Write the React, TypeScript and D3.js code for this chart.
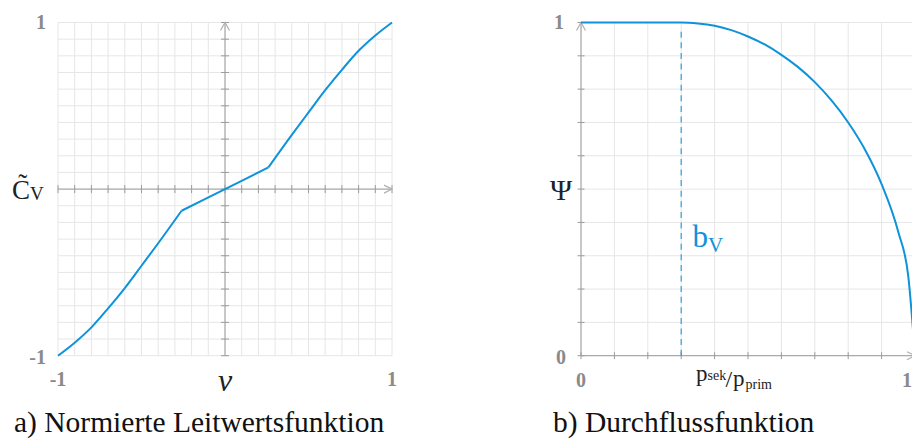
import React from "react";
import * as d3 from "d3";

// a) normalized conductance function, three pieces (kinks at +-0.26)
const outerNegX = [-1, -0.9, -0.8, -0.7, -0.6, -0.5, -0.4, -0.26];
const outerNegY = [-1, -0.922, -0.83, -0.716, -0.594, -0.46, -0.325, -0.13];
const coreX = [-0.26, 0, 0.26];
const coreY = [-0.13, 0, 0.13];
const outerPosX = [0.26, 0.4, 0.5, 0.6, 0.7, 0.8, 0.9, 1];
const outerPosY = [0.13, 0.325, 0.46, 0.594, 0.716, 0.83, 0.922, 1];

// b) flow function
const flowX = [0, 0.3, 0.35, 0.4, 0.45, 0.5, 0.55, 0.6, 0.65, 0.7, 0.75, 0.8, 0.85, 0.9, 0.95, 0.98, 1];
const flowY = [1, 1, 0.997, 0.99, 0.977, 0.958, 0.934, 0.903, 0.866, 0.821, 0.766, 0.7, 0.619, 0.515, 0.371, 0.237, 0];
const bV = 0.3;

const leftTickLabels = ["-1", "1"];
const rightTickLabels = ["0", "1"];

const BLUE = "#0e93da";
const GRID = "#e6e6e6";
const AXIS = "#9c9c9c";
const NUM = "#8a8a8a";
const FONT = '"Liberation Serif", "DejaVu Serif", serif';

const xL = d3.scaleLinear().domain([-1, 1]).range([58, 392]);
const yL = d3.scaleLinear().domain([-1, 1]).range([355.7, 22.5]);
const xR = d3.scaleLinear().domain([0, 1]).range([581, 915]);
const yR = d3.scaleLinear().domain([0, 1]).range([355.7, 22.5]);

function zip(xs: number[], ys: number[]): [number, number][] {
  return xs.map((x, i) => [x, ys[i]]);
}

function Chevron({ x, y, dir }: { x: number; y: number; dir: "up" | "right" }) {
  const d =
    dir === "up"
      ? `M${x - 4.5},${y + 8} L${x},${y} L${x + 4.5},${y + 8}`
      : `M${x - 8},${y - 4} L${x},${y} L${x - 8},${y + 4}`;
  return <path d={d} fill="none" stroke="#b0b0b0" strokeWidth={1.2} />;
}

function Num({ x, y, anchor, children }: { x: number; y: number; anchor: string; children: React.ReactNode }) {
  return (
    <text x={x} y={y} textAnchor={anchor} fontSize={20} fontWeight="bold" fill={NUM}>
      {children}
    </text>
  );
}

export default function App() {
  const lineL = d3
    .line<[number, number]>()
    .x((d) => xL(d[0]))
    .y((d) => yL(d[1]))
    .curve(d3.curveMonotoneX);
  const lineR = d3
    .line<[number, number]>()
    .x((d) => xR(d[0]))
    .y((d) => yR(d[1]))
    .curve(d3.curveMonotoneX);

  const gridL = d3.range(-10, 11).map((i) => i / 10);
  const gridR = d3.range(0, 11).map((i) => i / 10);

  return (
    <svg
      width={912}
      height={438}
      style={{ position: "absolute", left: 0, top: 0, background: "#fff", fontFamily: FONT }}
    >
      {/* ---------- left chart ---------- */}
      <g>
        {gridL.map((v) => (
          <line key={"gx" + v} x1={xL(v)} x2={xL(v)} y1={yL(-1)} y2={yL(1)} stroke={GRID} />
        ))}
        {gridL.map((v) => (
          <line key={"gy" + v} x1={xL(-1)} x2={xL(1)} y1={yL(v)} y2={yL(v)} stroke={GRID} />
        ))}
        <line x1={xL(-1)} x2={xL(1)} y1={yL(0)} y2={yL(0)} stroke={AXIS} />
        <line x1={xL(0)} x2={xL(0)} y1={yL(-1)} y2={yL(1)} stroke={AXIS} />
        {gridL.map((v) => (
          <line key={"tx" + v} x1={xL(v)} x2={xL(v)} y1={yL(0) - 4} y2={yL(0) + 4} stroke={AXIS} />
        ))}
        {gridL.map((v) => (
          <line key={"ty" + v} x1={xL(0) - 4} x2={xL(0) + 4} y1={yL(v)} y2={yL(v)} stroke={AXIS} />
        ))}
        <Chevron x={xL(0)} y={yL(1)} dir="up" />
        <Chevron x={xL(1)} y={yL(0)} dir="right" />

        {[zip(outerNegX, outerNegY), zip(coreX, coreY), zip(outerPosX, outerPosY)].map((seg, i) => (
          <path key={i} d={lineL(seg) || ""} fill="none" stroke={BLUE} strokeWidth={2} strokeLinejoin="round" />
        ))}

        <Num x={46} y={29} anchor="end">1</Num>
        <Num x={46} y={364} anchor="end">-1</Num>
        <Num x={xL(-1)} y={386} anchor="middle">{leftTickLabels[0]}</Num>
        <Num x={xL(1)} y={386} anchor="middle">{leftTickLabels[1]}</Num>
        <text x={xL(0)} y={391} textAnchor="middle" fontSize={32} fontStyle="italic" fill="#222">ν</text>
        <text x={12} y={198.5} fontSize={27} fill="#222">
          C̃
          <tspan fontSize={19} dy={1.5}>V</tspan>
        </text>
        <text x={14} y={432} fontSize={29.5} fill="#111">a) Normierte Leitwertsfunktion</text>
      </g>

      {/* ---------- right chart ---------- */}
      <g>
        {gridR.map((v) => (
          <line key={"gx" + v} x1={xR(v)} x2={xR(v)} y1={yR(0)} y2={yR(1)} stroke={GRID} />
        ))}
        {gridR.map((v) => (
          <line key={"gy" + v} x1={xR(0)} x2={xR(1)} y1={yR(v)} y2={yR(v)} stroke={GRID} />
        ))}
        <line x1={xR(0)} x2={xR(1)} y1={yR(0)} y2={yR(0)} stroke={AXIS} />
        <line x1={xR(0)} x2={xR(0)} y1={yR(0)} y2={yR(1)} stroke={AXIS} />
        {gridR.map((v) => (
          <line key={"tx" + v} x1={xR(v)} x2={xR(v)} y1={yR(0) - 3.5} y2={yR(0) + 3.5} stroke={AXIS} />
        ))}
        {gridR.map((v) => (
          <line key={"ty" + v} x1={xR(0) - 3.5} x2={xR(0) + 3.5} y1={yR(v)} y2={yR(v)} stroke={AXIS} />
        ))}
        <Chevron x={xR(0)} y={yR(1)} dir="up" />
        <Chevron x={xR(1)} y={yR(0)} dir="right" />

        <line
          x1={xR(bV)}
          x2={xR(bV)}
          y1={yR(0)}
          y2={yR(1) + 6}
          stroke={BLUE}
          strokeOpacity={0.85}
          strokeWidth={1.2}
          strokeDasharray="6 4.6"
        />
        <path d={lineR(zip(flowX, flowY)) || ""} fill="none" stroke={BLUE} strokeWidth={2} />

        <Num x={564} y={29} anchor="end">1</Num>
        <Num x={566} y={363.5} anchor="end">0</Num>
        <Num x={xR(0)} y={387} anchor="middle">{rightTickLabels[0]}</Num>
        <Num x={912} y={387} anchor="end">{rightTickLabels[1]}</Num>
        <text x={561} y={200} textAnchor="middle" fontSize={30} fill="#222">Ψ</text>

        <text x={696} y={381} fontSize={23} fill="#222">p</text>
        <text x={707.5} y={379.5} fontSize={14} fill="#222">sek</text>
        <text x={725.5} y={387} fontSize={24} fill="#222">/</text>
        <text x={733} y={385.5} fontSize={23} fill="#222">p</text>
        <text x={745.5} y={388.5} fontSize={14} fill="#222">prim</text>

        <text x={692.5} y={247} fontSize={31} fill={BLUE}>
          b
          <tspan fontSize={21} dy={5}>V</tspan>
        </text>

        <text x={553} y={432} fontSize={29.5} fill="#111">b) Durchflussfunktion</text>
      </g>
    </svg>
  );
}
